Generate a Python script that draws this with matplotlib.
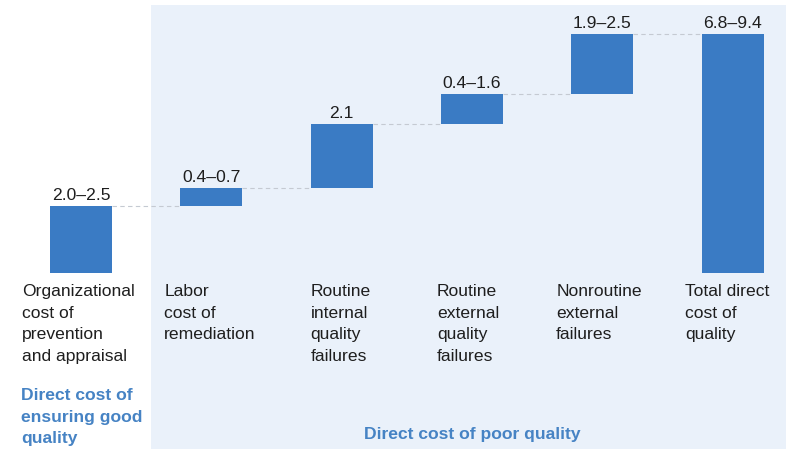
import matplotlib
matplotlib.use("Agg")
import matplotlib.pyplot as plt
from matplotlib.patches import Rectangle

plt.rcParams['font.family'] = ['Liberation Sans', 'DejaVu Sans']

categories = ["Organizational\ncost of\nprevention\nand appraisal",
              "Labor\ncost of\nremediation",
              "Routine\ninternal\nquality\nfailures",
              "Routine\nexternal\nquality\nfailures",
              "Nonroutine\nexternal\nfailures",
              "Total direct\ncost of\nquality"]
value_labels = ["2.0–2.5", "0.4–0.7", "2.1", "0.4–1.6", "1.9–2.5", "6.8–9.4"]
step_heights = [2.27, 0.61, 2.17, 1.02, 2.03]
group_labels = ["Direct cost of\nensuring good\nquality", "Direct cost of poor quality"]

BAR = '#3a7bc4'
BLUE_TXT = '#4683c4'
TXT = '#1e1e1e'
PANEL = '#eaf1fa'

fig = plt.figure(figsize=(7.86, 4.49), dpi=100)
fig.patch.set_facecolor('white')
ax = fig.add_axes([0, 0, 1, 1])
ax.set_facecolor('none')
ax.set_xlim(-81/130.3, (786-81)/130.3)
ax.set_ylim(-(449-273)/29.5, 273/29.5)
ax.axis('off')
ax.add_patch(Rectangle((151/786, 0), 1 - 151/786, (449-5)/449,
                       transform=ax.transAxes, facecolor=PANEL,
                       edgecolor='none', zorder=0))

w = 62/130.3
bottoms = []
tops = []
cum = 0.0
for h in step_heights:
    bottoms.append(cum)
    cum += h
    tops.append(cum)
bottoms.append(0.0)
tops.append(cum)
heights = [t - b for t, b in zip(tops, bottoms)]
xs = list(range(len(categories)))

ax.bar(xs, heights, bottom=bottoms, width=w, color=BAR, zorder=3)

# connectors
for i in range(len(xs) - 1):
    ax.plot([xs[i] + w/2, xs[i+1] - w/2], [tops[i], tops[i]],
            color='#c5cad2', lw=0.8, ls=(0, (4, 3)), zorder=2)

fs = 12.6
for i, x in enumerate(xs):
    ax.text(x, tops[i] + 0.1, value_labels[i], ha='center', va='bottom',
            fontsize=fs, color=TXT, zorder=4)

label_off = [-0.215, -0.123, 0.0, -0.031, -0.115, -0.123]
for i, x in enumerate(xs):
    ax.text(x - w/2 + label_off[i], -(284-273)/29.5, categories[i],
            ha='left', va='top', fontsize=fs, color=TXT, linespacing=1.56, zorder=4)

ax.text(-w/2 - 0.222, -(388-273)/29.5, group_labels[0], ha='left', va='top',
        fontsize=fs, color=BLUE_TXT, fontweight='bold', linespacing=1.56, zorder=4)
ax.text((472-81)/130.3, -(434-273)/29.5, group_labels[1], ha='center', va='center',
        fontsize=fs, color=BLUE_TXT, fontweight='bold', zorder=4)

fig.savefig('out.png', dpi=100)
